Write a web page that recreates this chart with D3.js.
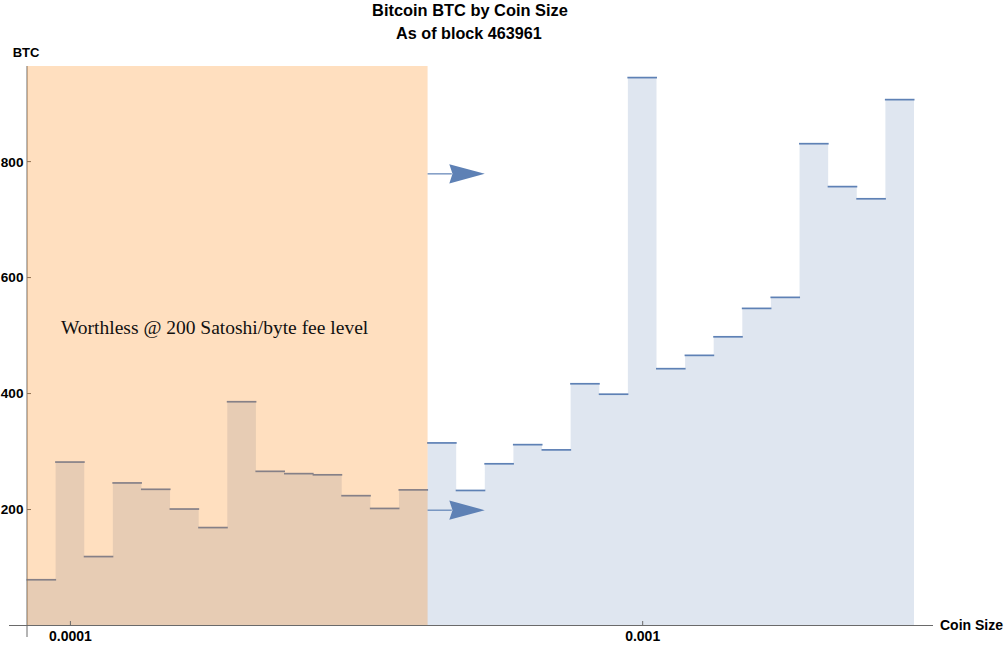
<!DOCTYPE html>
<html><head><meta charset="utf-8">
<script src="https://cdn.jsdelivr.net/npm/d3@7"></script>
<style>body{margin:0;background:#fff}svg{display:block}</style>
</head><body>
<svg id="c" width="1005" height="645"></svg>
<script>
// Bin edges (coin size, BTC), log-spaced histogram bins
const binEdges = [0.00008414, 0.00009441, 0.00010593, 0.00011885, 0.00013335, 0.00014962,
  0.00016788, 0.00018836, 0.00021135, 0.00023714, 0.00026607, 0.00029854, 0.00033497,
  0.00037584, 0.00042170, 0.00047315, 0.00053088, 0.00059566, 0.00066834, 0.00074989,
  0.00084140, 0.00094406, 0.0010593, 0.0011885, 0.0013335, 0.0014962, 0.0016788,
  0.0018836, 0.0021135, 0.0023714, 0.0026607, 0.0029854];
// Total BTC held in each bin
const btcValues = [78, 281, 118, 245, 234, 200, 168, 385, 265, 261, 259, 223, 201, 233,
  314, 232, 278, 311, 302, 416, 398, 944, 442, 465, 497, 546, 565, 830, 756, 735, 906];
const yTicks = [200, 400, 600, 800];
const xTicks = [0.0001, 0.001];
const xTickLabels = ["0.0001", "0.001"];
const yMax = 964;
const worthlessLimit = 0.00042170;
const arrowFrom = [0.00042170, 0.00042170];
const arrowTo = [0.00053088, 0.00053088];
const arrowLevel = [778, 198];
const titleLines = ["Bitcoin BTC by Coin Size", "As of block 463961"];
const note = "Worthless @ 200 Satoshi/byte fee level";

const svg = d3.select("#c");
const x = d3.scaleLog().domain([binEdges[0], binEdges[binEdges.length - 1]]).range([27, 914]);
const y = d3.scaleLinear().domain([0, yMax]).range([625, 66]);
const lineBlue = "#5E81B5";
const axisCol = "#6a6a6a";
const sans = "'Liberation Sans', Arial, sans-serif";

const bins = btcValues.map((v, i) => ({x0: binEdges[i], x1: binEdges[i + 1], v}));

// filled step area
const pts = [];
bins.forEach(b => { pts.push([b.x0, b.v]); pts.push([b.x1, b.v]); });
svg.append("path")
  .attr("d", d3.area().x(d => x(d[0])).y0(y(0)).y1(d => y(d[1]))(pts))
  .attr("fill", "rgb(94,129,181)").attr("fill-opacity", 0.2);

// bar tops
svg.append("g").selectAll("line").data(bins).join("line")
  .attr("x1", d => x(d.x0) - 0.5).attr("x2", d => x(d.x1) + 0.5)
  .attr("y1", d => y(d.v)).attr("y2", d => y(d.v))
  .attr("stroke", lineBlue).attr("stroke-width", 1.7);

// y axis
const yAxis = d3.axisLeft(y).tickValues(yTicks).tickSizeInner(-4).tickSizeOuter(0).tickPadding(3.5);
const gy = svg.append("g").attr("transform", "translate(27,0)").call(yAxis);
gy.select(".domain").remove();
gy.selectAll(".tick line").attr("stroke", axisCol);
gy.selectAll(".tick text").attr("font-family", sans).attr("font-weight", "bold")
  .attr("font-size", 13.6).attr("fill", "#000").attr("dy", "0.36em");
svg.append("line").attr("x1", 27).attr("x2", 27).attr("y1", y(yMax)).attr("y2", y(0) + 12)
  .attr("stroke", axisCol).attr("stroke-width", 1);

// worthless overlay
svg.append("rect")
  .attr("x", x(binEdges[0])).attr("y", y(yMax))
  .attr("width", x(worthlessLimit) - x(binEdges[0])).attr("height", y(0) - y(yMax))
  .attr("fill", "rgb(255,128,0)").attr("fill-opacity", 0.25);

// x axis
const xAxis = d3.axisBottom(x).tickValues(xTicks).tickFormat((d, i) => xTickLabels[i])
  .tickSizeInner(-4).tickSizeOuter(0).tickPadding(6);
const gx = svg.append("g").attr("transform", `translate(0,${y(0)})`).call(xAxis);
gx.select(".domain").remove();
gx.selectAll(".tick line").attr("stroke", axisCol);
gx.selectAll(".tick text").attr("font-family", sans).attr("font-weight", "bold")
  .attr("font-size", 14).attr("fill", "#000");
svg.append("line").attr("x1", 9).attr("x2", 933).attr("y1", y(0) + 0.5).attr("y2", y(0) + 0.5)
  .attr("stroke", axisCol).attr("stroke-width", 1);

// arrows
arrowFrom.forEach((f, i) => {
  const x0 = x(f), x1 = x(arrowTo[i]), yy = y(arrowLevel[i]);
  svg.append("line").attr("x1", x0).attr("x2", x1 - 33).attr("y1", yy).attr("y2", yy)
    .attr("stroke", lineBlue).attr("stroke-width", 1.2);
  svg.append("path")
    .attr("d", `M${x1},${yy} L${x1 - 35.5},${yy - 9.6} L${x1 - 32.3},${yy} L${x1 - 35.5},${yy + 9.6} Z`)
    .attr("fill", lineBlue);
});

// texts
svg.append("text").attr("x", 470).attr("y", 15.5).attr("text-anchor", "middle")
  .attr("font-family", sans).attr("font-weight", "bold").attr("font-size", 16.4).text(titleLines[0]);
svg.append("text").attr("x", 469).attr("y", 38.7).attr("text-anchor", "middle")
  .attr("font-family", sans).attr("font-weight", "bold").attr("font-size", 16.2).text(titleLines[1]);
svg.append("text").attr("x", 12.7).attr("y", 56.5)
  .attr("font-family", sans).attr("font-weight", "bold").attr("font-size", 13).text("BTC");
svg.append("text").attr("x", 940).attr("y", 630)
  .attr("font-family", sans).attr("font-weight", "bold").attr("font-size", 14).text("Coin Size");
svg.append("text").attr("x", 61).attr("y", 334)
  .attr("font-family", "'Liberation Serif', 'Times New Roman', serif").attr("font-size", 19.5)
  .attr("fill", "#111").text(note);
</script>
</body></html>
